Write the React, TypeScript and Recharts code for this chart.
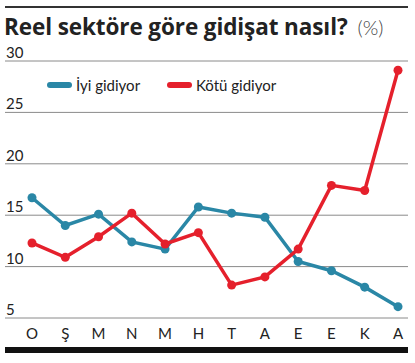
import React from "react";
import { LineChart, Line, XAxis, YAxis, CartesianGrid } from "recharts";

const months = ["O", "Ş", "M", "N", "M", "H", "T", "A", "E", "E", "K", "A"];
const iyiGidiyor = [16.7, 14.0, 15.1, 12.4, 11.7, 15.8, 15.2, 14.8, 10.5, 9.6, 8.0, 6.1];
const kotuGidiyor = [12.3, 10.9, 12.9, 15.2, 12.2, 13.3, 8.2, 9.0, 11.7, 17.9, 17.4, 29.1];
const yTicks = [5, 10, 15, 20, 25, 30];

const BLUE = "#2a87a6";
const RED = "#e5202c";
const FONT = "Lato, 'Noto Sans', sans-serif";

const data = months.map((m, i) => ({ idx: i, m, iyi: iyiGidiyor[i], kotu: kotuGidiyor[i] }));

const YTick = (props: any) => {
  const { y, payload } = props;
  return (
    <text x={6} y={y - 3} fill="#222" fontSize={15} fontFamily={FONT} textAnchor="start">
      {payload.value}
    </text>
  );
};

const XTick = (props: any) => {
  const { x, payload } = props;
  return (
    <text x={x} y={339} fill="#222" fontSize={15} fontFamily={FONT} textAnchor="middle">
      {months[payload.value]}
    </text>
  );
};

export default function App() {
  return (
    <div style={{ position: "absolute", left: 0, top: 0, width: 415, height: 363, background: "#fff", fontFamily: FONT }}>
      <div style={{ position: "absolute", left: 5, top: 6, width: 403, height: 1.5, background: "#333" }} />
      <div style={{ position: "absolute", left: 4, top: 11, whiteSpace: "nowrap", color: "#222" }}>
        <span style={{ fontSize: 22.5, fontWeight: 700, fontFamily: "'Open Sans', sans-serif", letterSpacing: -0.1 }}>Reel sektöre göre gidişat nasıl?</span>
        <span style={{ fontSize: 20, color: "#444", marginLeft: 10, fontFamily: FONT, fontWeight: 300 }}>(%)</span>
      </div>
      <div style={{ position: "absolute", left: 0, top: 0 }}>
        <LineChart width={415} height={363} data={data} margin={{ top: 61, right: 7, left: 4, bottom: 0 }}>
          <CartesianGrid horizontal={true} vertical={false} stroke="#8a8a8a" strokeWidth={1} />
          <XAxis
            dataKey="idx"
            type="category"
            height={45}
            axisLine={false}
            tickLine={false}
            interval={0}
            padding={{ left: 27, right: 10 }}
            tick={<XTick />}
          />
          <YAxis
            domain={[5, 30]}
            ticks={yTicks}
            width={1}
            axisLine={false}
            tickLine={false}
            tick={<YTick />}
            interval={0}
          />
          <Line dataKey="iyi" stroke={BLUE} strokeWidth={3.5} dot={{ r: 4.5, fill: BLUE, stroke: BLUE, strokeWidth: 0 }} isAnimationActive={false} />
          <Line dataKey="kotu" stroke={RED} strokeWidth={3.5} dot={{ r: 4.5, fill: RED, stroke: RED, strokeWidth: 0 }} isAnimationActive={false} />
        </LineChart>
      </div>
      <div style={{ position: "absolute", left: 47, top: 76, display: "flex", alignItems: "center", fontSize: 15, color: "#222" }}>
        <span style={{ display: "inline-block", width: 25, height: 6, borderRadius: 3, background: BLUE, marginRight: 4 }} />
        <span>İyi gidiyor</span>
      </div>
      <div style={{ position: "absolute", left: 167, top: 76, display: "flex", alignItems: "center", fontSize: 15, color: "#222" }}>
        <span style={{ display: "inline-block", width: 25, height: 6, borderRadius: 3, background: RED, marginRight: 4 }} />
        <span>Kötü gidiyor</span>
      </div>
      <div style={{ position: "absolute", left: 5, top: 347, width: 403, height: 6, background: "#111" }} />
    </div>
  );
}
